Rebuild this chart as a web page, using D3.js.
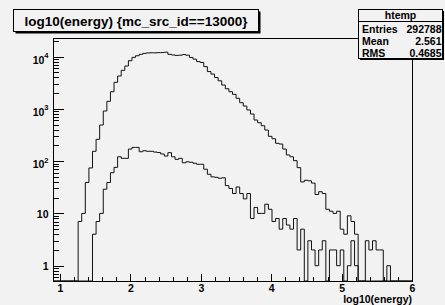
<!DOCTYPE html>
<html>
<head>
<meta charset="utf-8">
<script src="https://cdn.jsdelivr.net/npm/d3@7"></script>
<style>
  html, body { margin: 0; padding: 0; background: #f2f2f2; }
  svg { display: block; }
  text { font-family: "Liberation Sans", Arial, Helvetica, sans-serif; font-weight: bold; fill: #000; }
</style>
</head>
<body>
<svg id="chart" width="445" height="305"></svg>
<script>
// ---------------- data ----------------
const histTitle = "log10(energy) {mc_src_id==13000}";
const xAxisTitle = "log10(energy)";
const nBins = 100;
const xLow = 0.9;
const xHigh = 6.0;
// main histogram (htemp), counts per bin
const countsAll = [
  0,0,0,0,0,0,0,
  7,10,39,74,154,261,490,908,1390,2120,
  3210,4240,5450,6580,8310,9640,10350,11000,11500,11700,
  11800,11750,11850,11900,12100,11000,10700,10500,10600,10900,
  10600,9600,8900,8000,7700,6400,5150,4610,3970,3430,
  2850,2420,2120,1890,1590,1310,1130,950,795,611,
  542,475,393,298,268,219,212,170,131,121,
  102,75,40,43,42,38,23,26,24,12,
  11,10,11,5,4,9,7,4,0,0,
  0,0,0,0,0,0,0,0,0,0,0,0,0
];
// second histogram drawn "same"
const countsSel = [
  0,0,0,0,0,0,0,0,0,0,0,
  4,7,10,29,39,60,76,121,113,113,
  170,183,183,151,158,154,154,149,146,137,
  125,145,121,108,113,93,97,95,91,87,
  87,70,56,50,49,47,48,34,30,24,
  32,24,19,24,8,13,10,10,15,12,
  7,8,5,8,6,5,8,2,5,0,
  3,2,1,2,3,0,2,2,1,2,
  0,1,3,1,0,0,3,2,3,2,
  2,0,1,0,0,0,0,0,0
];
const xTickValues = [1, 2, 3, 4, 5, 6];
const xTickLabels = ["1", "2", "3", "4", "5", "6"];
const yTickValues = [1, 10, 100, 1000, 10000];
const yTickLabels = [["1", ""], ["10", ""], ["10", "2"], ["10", "3"], ["10", "4"]];
const statsName = "htemp";
const statsRows = [["Entries", "292788"], ["Mean", "2.561"], ["RMS", "0.4685"]];

// ---------------- layout ----------------
const W = 445, H = 305;
const frame = { left: 53, right: 412, top: 38, bottom: 281 };
const yMin = 0.51, yMax = 22600;

const svg = d3.select("#chart");
svg.append("rect").attr("width", W).attr("height", H).attr("fill", "#f2f2f2");

const x = d3.scaleLinear().domain([xLow, xHigh]).range([frame.left, frame.right]);
const y = d3.scaleLog().domain([yMin, yMax]).range([frame.bottom, frame.top]);

const binW = (xHigh - xLow) / nBins;
const edges = d3.range(nBins + 1).map(i => xLow + i * binW);

// ---------------- axes ----------------
const yMinor = [];
for (let e = -1; e <= 4; e++) {
  for (let m = 2; m <= 9; m++) {
    const v = m * Math.pow(10, e);
    if (v > yMin && v < yMax) yMinor.push(v);
  }
}
svg.append("g")
  .attr("transform", `translate(${frame.left},0)`)
  .call(d3.axisLeft(y).tickValues(yMinor).tickSizeInner(-5.5).tickSizeOuter(0).tickFormat(""))
  .call(g => g.select(".domain").remove())
  .attr("shape-rendering", "crispEdges");

const yMajorG = svg.append("g")
  .attr("transform", `translate(${frame.left},0)`)
  .call(d3.axisLeft(y).tickValues(yTickValues).tickSizeInner(-11).tickSizeOuter(0).tickPadding(4.5).tickFormat(""))
  .call(g => g.select(".domain").remove())
  .attr("shape-rendering", "crispEdges");
yMajorG.selectAll(".tick text").each(function(d, i) {
  const t = d3.select(this);
  const lab = yTickLabels[i];
  t.attr("font-size", 10.5).attr("font-family", null).attr("dy", lab[1] ? "0.62em" : "0.35em");
  t.append("tspan").text(lab[0]);
  if (lab[1]) {
    t.append("tspan").attr("font-size", 7.5).attr("dy", "-0.75em").text(lab[1]);
  }
});

const xMinor = d3.range(10, 61, 2).map(v => v / 10).filter(v => !Number.isInteger(v));
svg.append("g")
  .attr("transform", `translate(0,${frame.bottom})`)
  .call(d3.axisBottom(x).tickValues(xMinor).tickSizeInner(-3.8).tickSizeOuter(0).tickFormat(""))
  .call(g => g.select(".domain").remove())
  .attr("shape-rendering", "crispEdges");
const xMajorG = svg.append("g")
  .attr("transform", `translate(0,${frame.bottom})`)
  .call(d3.axisBottom(x).tickValues(xTickValues).tickSizeInner(-7.3).tickSizeOuter(0).tickPadding(3.5)
        .tickFormat((d, i) => xTickLabels[i]))
  .call(g => g.select(".domain").remove())
  .attr("shape-rendering", "crispEdges");
xMajorG.selectAll(".tick text").attr("font-size", 10.5).attr("font-family", null);
svg.selectAll(".tick line").attr("stroke", "#000");

// ---------------- frame ----------------
svg.append("rect")
  .attr("x", frame.left + 0.5).attr("y", frame.top + 0.5)
  .attr("width", frame.right - frame.left).attr("height", frame.bottom - frame.top)
  .attr("fill", "none").attr("stroke", "#000").attr("stroke-width", 1)
  .attr("shape-rendering", "crispEdges");

// ---------------- histograms ----------------
function stepPath(counts) {
  const yv = v => y(Math.max(v, yMin));
  let p = `M${x(edges[0])},${y(yMin)}`;
  counts.forEach((v, i) => {
    p += `V${yv(v)}H${x(edges[i + 1])}`;
  });
  p += `V${y(yMin)}`;
  return p;
}
svg.append("path").attr("d", stepPath(countsAll))
  .attr("fill", "none").attr("stroke", "#111").attr("stroke-width", 1);
svg.append("path").attr("d", stepPath(countsSel))
  .attr("fill", "none").attr("stroke", "#111").attr("stroke-width", 1);

// ---------------- axis title ----------------
svg.append("text").attr("x", frame.right).attr("y", 302.5)
  .attr("text-anchor", "end").attr("font-size", 10.5).text(xAxisTitle);

// ---------------- title box ----------------
const tb = { x: 13.5, y: 9.5, w: 245, h: 22 };
svg.append("rect").attr("x", tb.x + 2).attr("y", tb.y + 2).attr("width", tb.w).attr("height", tb.h).attr("fill", "#000");
svg.append("rect").attr("x", tb.x).attr("y", tb.y).attr("width", tb.w).attr("height", tb.h)
  .attr("fill", "#f2f2f2").attr("stroke", "#000").attr("stroke-width", 1);
svg.append("text").attr("x", tb.x + tb.w / 2).attr("y", 26)
  .attr("text-anchor", "middle").attr("font-size", 13.5).text(histTitle);

// ---------------- stats box ----------------
const sb = { x: 358.5, y: 9.5, w: 84, h: 49 };
svg.append("rect").attr("x", sb.x + 1.5).attr("y", sb.y + 1.5).attr("width", sb.w).attr("height", sb.h).attr("fill", "#000");
svg.append("rect").attr("x", sb.x).attr("y", sb.y).attr("width", sb.w).attr("height", sb.h)
  .attr("fill", "#f2f2f2").attr("stroke", "#000").attr("stroke-width", 1);
svg.append("line").attr("x1", sb.x).attr("x2", sb.x + sb.w).attr("y1", 21.5).attr("y2", 21.5)
  .attr("stroke", "#000").attr("stroke-width", 1);
svg.append("text").attr("x", sb.x + sb.w / 2).attr("y", 18.5).attr("text-anchor", "middle")
  .attr("font-size", 10.5).text(statsName);
statsRows.forEach((r, i) => {
  const by = 32.5 + i * 12;
  svg.append("text").attr("x", 362).attr("y", by).attr("font-size", 10.5).text(r[0]);
  svg.append("text").attr("x", 441.5).attr("y", by).attr("text-anchor", "end").attr("font-size", 10.5).text(r[1]);
});
</script>
</body>
</html>
